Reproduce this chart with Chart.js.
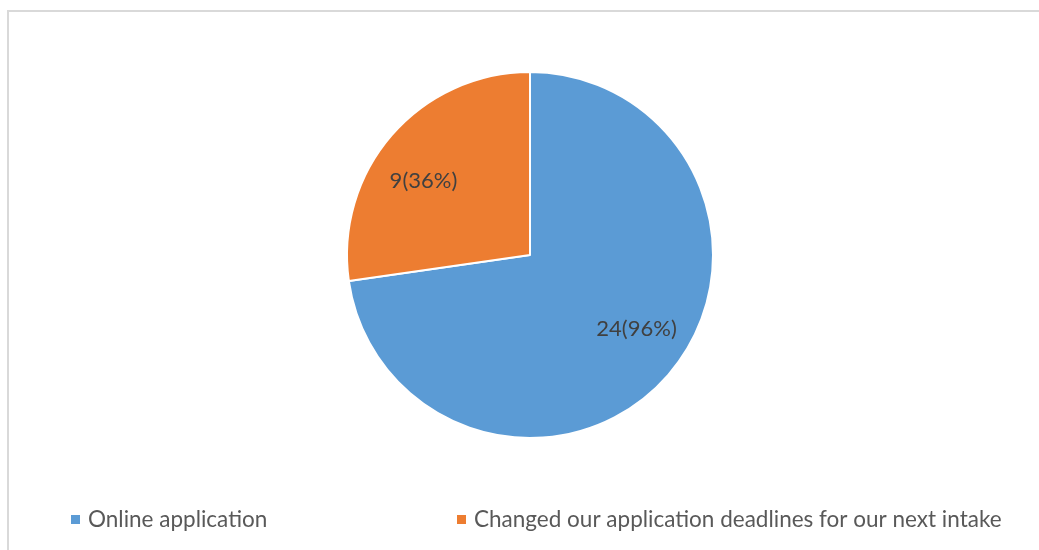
<!DOCTYPE html>
<html>
<head>
<meta charset="utf-8">
<script src="https://cdn.jsdelivr.net/npm/chart.js@4.4.0/dist/chart.umd.min.js"></script>
<style>
  html, body { margin: 0; padding: 0; background: #fff; }
  #wrap { width: 1039px; height: 550px; position: relative; }
</style>
</head>
<body>
<div id="wrap"><canvas id="pie"></canvas></div>
<script>
const categories = ['Online application', 'Changed our application deadlines for our next intake'];
const counts = [24, 9];
const percents = [96, 36]; // as printed on the original chart
const colors = ['#5B9BD5', '#ED7D31'];

const FONT = 'Lato, "Open Sans", sans-serif';

// frame, value labels and legend drawn by hand
const decorations = {
  id: 'decorations',
  beforeDraw(chart) {
    const ctx = chart.ctx;
    ctx.save();
    ctx.strokeStyle = '#d9d9d9';
    ctx.lineWidth = 2;
    ctx.strokeRect(8, 11, 1100, 600);
    ctx.restore();
  },
  afterDatasetsDraw(chart) {
    const ctx = chart.ctx;
    const meta = chart.getDatasetMeta(0);
    ctx.save();
    ctx.font = '22px ' + FONT;
    ctx.fillStyle = '#404040';
    ctx.textAlign = 'center';
    ctx.textBaseline = 'middle';
    meta.data.forEach((arc, i) => {
      const p = arc.getProps(['x', 'y', 'startAngle', 'endAngle', 'outerRadius']);
      // Excel's best-fit puts labels a little counter-clockwise of the middle
      const mid = (p.startAngle + p.endAngle) / 2 - 6 * Math.PI / 180;
      const d = p.outerRadius * 0.71;
      ctx.fillText(counts[i] + '(' + percents[i] + '%)',
        p.x + Math.cos(mid) * d, p.y + Math.sin(mid) * d);
    });
    ctx.restore();

    // legend
    const legendX = [71, 457];
    const legendY = 520;
    ctx.save();
    ctx.font = '22.5px ' + FONT;
    ctx.textBaseline = 'middle';
    ctx.textAlign = 'left';
    categories.forEach((name, i) => {
      ctx.fillStyle = colors[i];
      ctx.fillRect(legendX[i], legendY - 5, 9, 9);
      ctx.fillStyle = '#595959';
      ctx.fillText(name, legendX[i] + 17, legendY);
    });
    ctx.restore();
  }
};

new Chart(document.getElementById('pie'), {
  type: 'pie',
  data: {
    labels: categories,
    datasets: [{
      data: counts,
      backgroundColor: colors,
      borderColor: '#ffffff',
      borderWidth: 2
    }]
  },
  options: {
    responsive: true,
    maintainAspectRatio: false,
    animation: false,
    layout: { padding: { top: 71, bottom: 111, left: 21, right: 0 } },
    plugins: {
      legend: { display: false },
      tooltip: { enabled: false }
    }
  },
  plugins: [decorations]
});
</script>
</body>
</html>
